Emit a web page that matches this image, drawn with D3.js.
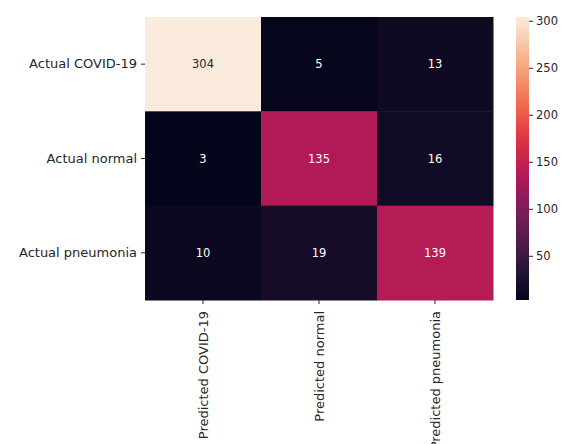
<!DOCTYPE html>
<html>
<head>
<meta charset="utf-8">
<script src="https://cdn.jsdelivr.net/npm/d3@7"></script>
<style>
  body { margin: 0; background: #fff; }
  text { font-family: "DejaVu Sans", sans-serif; }
</style>
</head>
<body>
<svg id="vis" width="565" height="444"></svg>
<script>
const rows = ["Actual COVID-19", "Actual normal", "Actual pneumonia"];
const cols = ["Predicted COVID-19", "Predicted normal", "Predicted pneumonia"];
const counts = [
    [304, 5, 13],
    [3, 135, 16],
    [10, 19, 139]
];
const cbar_ticks = [50, 100, 150, 200, 250, 300];

// seaborn "rocket" stops
const rocket_stops = ["#03051a", "#35193e", "#701f57", "#ad1759", "#e13342", "#f37651", "#f6b48f", "#faebdd"];
const rocket_pos = [0, 1/7, 2/7, 3/7, 4/7, 5/7, 6/7, 1];
const rocket = d3.scaleLinear().domain(rocket_pos).range(rocket_stops).interpolate(d3.interpolateRgb);

const vis = d3.select("#vis");
const m_left = 145, m_top = 17, m_right = 493, m_bottom = 300;

const x = d3.scaleBand().domain(cols).range([m_left, m_right]);
const y = d3.scaleBand().domain(rows).range([m_top, m_bottom]);

const flat = [];
counts.forEach((r, i) => r.forEach((v, j) => flat.push({row: rows[i], col: cols[j], v: v})));
const vmin = d3.min(flat, d => d.v), vmax = d3.max(flat, d => d.v);
const color = d3.scaleLinear().domain([vmin, vmax]).range([0, 1]);

vis.selectAll("rect.cell").data(flat)
    .join("rect")
    .attr("class", "cell")
    .attr("x", d => x(d.col))
    .attr("y", d => y(d.row))
    .attr("width", x.bandwidth() + 0.5)
    .attr("height", y.bandwidth() + 0.5)
    .attr("fill", d => rocket(color(d.v)));

vis.selectAll("text.ann").data(flat)
    .join("text")
    .attr("class", "ann")
    .attr("x", d => x(d.col) + x.bandwidth() / 2)
    .attr("y", d => y(d.row) + y.bandwidth() / 2)
    .attr("dy", "0.35em")
    .attr("text-anchor", "middle")
    .attr("font-size", 11.5)
    .attr("fill", d => color(d.v) > 0.6 ? "#262626" : "#ffffff")
    .text(d => d.v);

const yAxis = vis.append("g")
    .attr("transform", `translate(${m_left},0)`)
    .call(d3.axisLeft(y).tickSize(4).tickPadding(4));
yAxis.select(".domain").remove();
yAxis.selectAll("text").attr("font-size", 13).attr("fill", "#262626").style("font-family", "DejaVu Sans");
yAxis.selectAll("line").attr("stroke", "#262626");

const xAxis = vis.append("g")
    .attr("transform", `translate(0,${m_bottom})`)
    .call(d3.axisBottom(x).tickSize(4).tickPadding(3));
xAxis.select(".domain").remove();
xAxis.selectAll("line").attr("stroke", "#262626");
xAxis.selectAll("text")
    .attr("font-size", 13).attr("fill", "#262626").style("font-family", "DejaVu Sans")
    .attr("transform", "rotate(-90)")
    .attr("text-anchor", "end")
    .attr("x", -11)
    .attr("y", 0)
    .attr("dy", "0.35em");

// colorbar
const cb_x = 516, cb_w = 13;
const cb = d3.scaleLinear().domain([vmin, vmax]).range([m_bottom, m_top]);
const grad = vis.append("defs").append("linearGradient")
    .attr("id", "cbgrad").attr("x1", 0).attr("y1", 1).attr("x2", 0).attr("y2", 0);
d3.range(0, 1.0001, 0.05).forEach(t => {
    grad.append("stop").attr("offset", t).attr("stop-color", rocket(t));
});
vis.append("rect")
    .attr("x", cb_x).attr("y", m_top)
    .attr("width", cb_w).attr("height", m_bottom - m_top)
    .attr("fill", "url(#cbgrad)");
const cAxis = vis.append("g")
    .attr("transform", `translate(${cb_x + cb_w},0)`)
    .call(d3.axisRight(cb).tickValues(cbar_ticks).tickSize(4).tickPadding(3));
cAxis.select(".domain").remove();
cAxis.selectAll("line").attr("stroke", "#262626");
cAxis.selectAll("text").attr("font-size", 11.5).attr("fill", "#262626").style("font-family", "DejaVu Sans");
</script>
</body>
</html>
